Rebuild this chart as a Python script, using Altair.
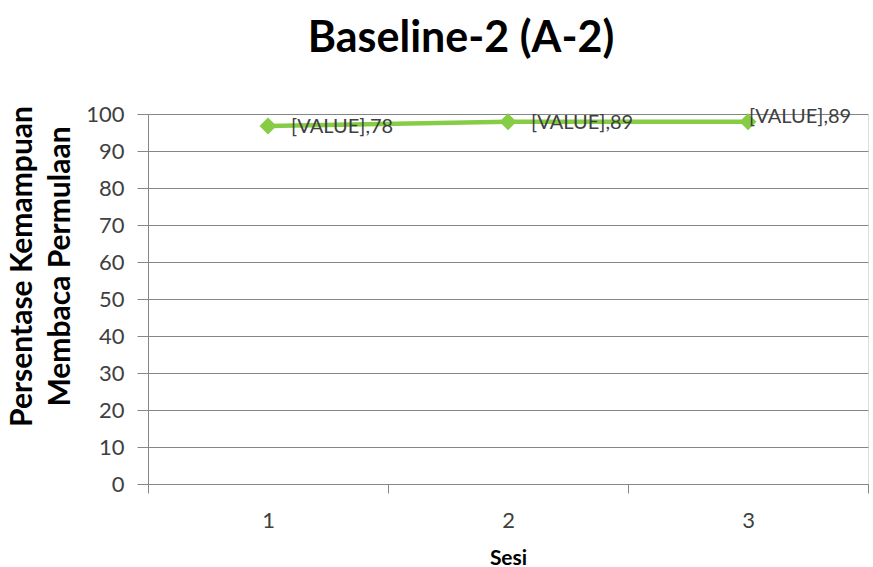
import altair as alt
import pandas as pd

sessions = ["1", "2", "3"]
values = [96.78, 97.89, 97.89]
point_labels = ["[VALUE],78", "[VALUE],89", "[VALUE],89"]
y_ticks = [0, 10, 20, 30, 40, 50, 60, 70, 80, 90, 100]

df = pd.DataFrame({"Sesi": sessions, "Nilai": values, "Label": point_labels})

FONT = "Lato"
GREEN = "#86cc45"
GRAY = "#868686"
TXT = "#404040"

x_enc = alt.X(
    "Sesi:N",
    sort=sessions,
    scale=alt.Scale(type="band", paddingInner=0, paddingOuter=0),
    axis=alt.Axis(
        title="Sesi",
        labelAngle=0,
        tickBand="extent",
        tickSize=9,
        tickColor=GRAY,
        domainColor=GRAY,
        labelPadding=17,
        labelFontSize=22,
        labelColor=TXT,
        labelFont=FONT,
        titleFont=FONT,
        titleFontSize=21,
        titleFontWeight="bold",
        titleColor="#000000",
        titlePadding=16,
        grid=False,
    ),
)

y_enc = alt.Y(
    "Nilai:Q",
    scale=alt.Scale(domain=[0, 100], nice=False, zero=True),
    axis=alt.Axis(
        values=y_ticks,
        title=["Persentase Kemampuan", "Membaca Permulaan"],
        titleFont=FONT,
        titleFontSize=30,
        titleFontWeight="bold",
        titleColor="#000000",
        titleLineHeight=38,
        titleAngle=-90,
        titleAlign="center",
        titleBaseline="middle",
        titleX=-126,
        titleY=152,
        labelFont=FONT,
        labelFontSize=22,
        labelColor=TXT,
        labelPadding=13,
        tickSize=11,
        tickColor=GRAY,
        domainColor=GRAY,
        gridColor=GRAY,
        gridWidth=1,
    ),
)

base = alt.Chart(df)

line = base.mark_line(color=GREEN, strokeWidth=4.5).encode(x=x_enc, y=y_enc)
points = base.mark_point(
    shape="diamond", filled=True, color=GREEN, size=290, opacity=1
).encode(x=x_enc, y=y_enc)

text12 = (
    base.transform_filter(alt.datum.Sesi != "3")
    .mark_text(align="left", baseline="middle", dx=23, dy=1, font=FONT, fontSize=20, color=TXT)
    .encode(x=x_enc, y=y_enc, text="Label:N")
)
text3 = (
    base.transform_filter(alt.datum.Sesi == "3")
    .mark_text(align="left", baseline="middle", dx=1, dy=-5, font=FONT, fontSize=20, color=TXT)
    .encode(x=x_enc, y=y_enc, text="Label:N")
)

chart = (
    alt.layer(line, points, text12, text3)
    .properties(
        width=720,
        height=370,
        title=alt.TitleParams(
            "Baseline-2 (A-2)",
            font=FONT,
            fontSize=43,
            fontWeight="bold",
            color="#000000",
            anchor="middle",
            dx=-47,
            offset=42,
        ),
        autosize=alt.AutoSizeParams(type="none"),
        padding={"left": 148, "top": 114, "right": 5, "bottom": 83},
    )
    .configure_view(stroke=None)
    .configure(background="white")
)

chart.save("out.html", embed_options={"renderer": "svg", "actions": False})
